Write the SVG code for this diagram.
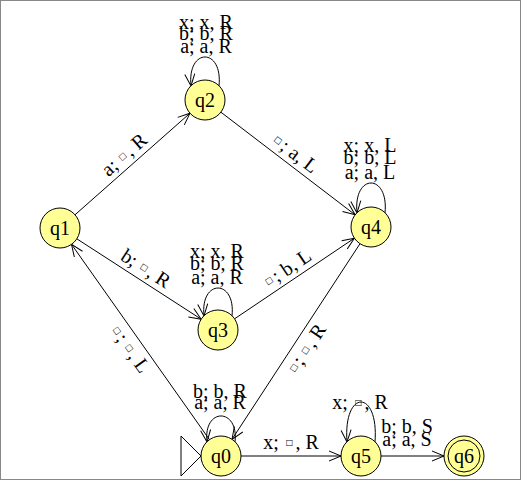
<svg xmlns="http://www.w3.org/2000/svg" width="523" height="481" viewBox="0 0 523 481">
<style>
text{font-family:"Liberation Serif","DejaVu Serif",serif;font-size:20px;fill:#000}
.lbl{text-anchor:middle}
.st circle{fill:#ffff96;stroke:#000;stroke-width:1}
.st text{text-anchor:middle}
.e{fill:none;stroke:#000;stroke-width:1;marker-end:url(#arr)}
.bl{font-family:"DejaVu Sans",sans-serif;font-size:8px}
</style>
<defs>
<marker id="arr" markerWidth="14" markerHeight="12" refX="13" refY="6" orient="auto" markerUnits="userSpaceOnUse">
<path d="M1,1 L13,6 L1,11" fill="none" stroke="#000" stroke-width="1"/>
</marker>
</defs>
<rect x="0.5" y="0.5" width="520" height="479" fill="#fff" stroke="#888"/>
<g id="connectors">
<line class="e" x1="75.0" y1="214.8" x2="190.0" y2="113.2"/>
<line class="e" x1="220.9" y1="112.2" x2="355.1" y2="214.8"/>
<line class="e" x1="76.8" y1="238.8" x2="201.2" y2="319.2"/>
<line class="e" x1="234.6" y1="318.8" x2="354.4" y2="238.2"/>
<line class="e" x1="360.0" y1="243.7" x2="232.0" y2="439.3"/>
<line class="e" x1="209.5" y1="439.7" x2="71.5" y2="244.3"/>
<line class="e" x1="241" y1="456" x2="341" y2="456"/>
<line class="e" x1="381" y1="456" x2="444" y2="456"/>
<path class="e" d="M219,86 C223,47.3 187,47.3 191,86"/>
<path class="e" d="M385,213 C389,173 353,173 357,213"/>
<path class="e" d="M232,316 C236,278.7 200,278.7 204,316"/>
<path class="e" d="M235,442 C239,407.3 203,407.3 207,442"/>
<path class="e" d="M375,442 C379,388.7 343,388.7 347,442"/>
<text class="lbl" transform="translate(132.5,164) rotate(-41.44)" x="0" y="-6">a;<tspan class="bl" dx="6" dy="-4">□</tspan><tspan dx="2" dy="4">, R</tspan></text>
<text class="lbl" transform="translate(288,163.5) rotate(37.42)" x="0" y="-6"><tspan class="bl" dy="-4">□</tspan><tspan dx="2" dy="4">; a, L</tspan></text>
<text class="lbl" transform="translate(139,279) rotate(32.85)" x="0" y="-6">b;<tspan class="bl" dx="6" dy="-4">□</tspan><tspan dx="2" dy="4">, R</tspan></text>
<text class="lbl" transform="translate(294.5,278.5) rotate(-33.95)" x="0" y="-6"><tspan class="bl" dy="-4">□</tspan><tspan dx="2" dy="4">; b, L</tspan></text>
<text class="lbl" transform="translate(296,341.5) rotate(-56.77)" x="0" y="19"><tspan class="bl" dy="-4">□</tspan><tspan dx="2" dy="4">;</tspan><tspan class="bl" dx="6" dy="-4">□</tspan><tspan dx="2" dy="4">, R</tspan></text>
<text class="lbl" transform="translate(140.5,342) rotate(54.78)" x="0" y="19"><tspan class="bl" dy="-4">□</tspan><tspan dx="2" dy="4">;</tspan><tspan class="bl" dx="6" dy="-4">□</tspan><tspan dx="2" dy="4">, L</tspan></text>
<text class="lbl" x="291" y="448.5">x;<tspan class="bl" dx="7" dy="-4">□</tspan><tspan dx="2" dy="4">, R</tspan></text>
<text class="lbl" x="407" y="433">b; b, S</text>
<text class="lbl" x="407" y="446">a; a, S</text>
<text class="lbl" x="206" y="29">x; x, R</text>
<text class="lbl" x="206" y="40">b; b, R</text>
<text class="lbl" x="206" y="53">a; a, R</text>
<text class="lbl" x="370" y="152">x; x, L</text>
<text class="lbl" x="370" y="164">b; b, L</text>
<text class="lbl" x="370" y="179">a; a, L</text>
<text class="lbl" x="217" y="258">x; x, R</text>
<text class="lbl" x="217" y="270">b; b, R</text>
<text class="lbl" x="217" y="284">a; a, R</text>
<text class="lbl" x="220" y="398">b; b, R</text>
<text class="lbl" x="220" y="409">a; a, R</text>
<text class="lbl" x="360" y="409">x;<tspan class="bl" dx="7" dy="-4">□</tspan><tspan dx="2" dy="4">, R</tspan></text>
</g>
<g id="q0" class="st">
<polygon points="181,436 201,456 181,476" fill="#fff" stroke="#000"/>
<circle cx="221" cy="456" r="20"/>
<text x="221" y="463">q0</text>
</g>
<g id="q1" class="st">
<circle cx="60" cy="228" r="20"/>
<text x="60" y="235">q1</text>
</g>
<g id="q2" class="st">
<circle cx="205" cy="100" r="20"/>
<text x="205" y="107">q2</text>
</g>
<g id="q3" class="st">
<circle cx="218" cy="330" r="20"/>
<text x="218" y="337">q3</text>
</g>
<g id="q4" class="st">
<circle cx="371" cy="227" r="20"/>
<text x="371" y="234">q4</text>
</g>
<g id="q5" class="st">
<circle cx="361" cy="456" r="20"/>
<text x="361" y="463">q5</text>
</g>
<g id="q6" class="st">
<circle cx="464" cy="456" r="20"/>
<circle cx="464" cy="456" r="16"/>
<text x="464" y="463">q6</text>
</g>
</svg>
